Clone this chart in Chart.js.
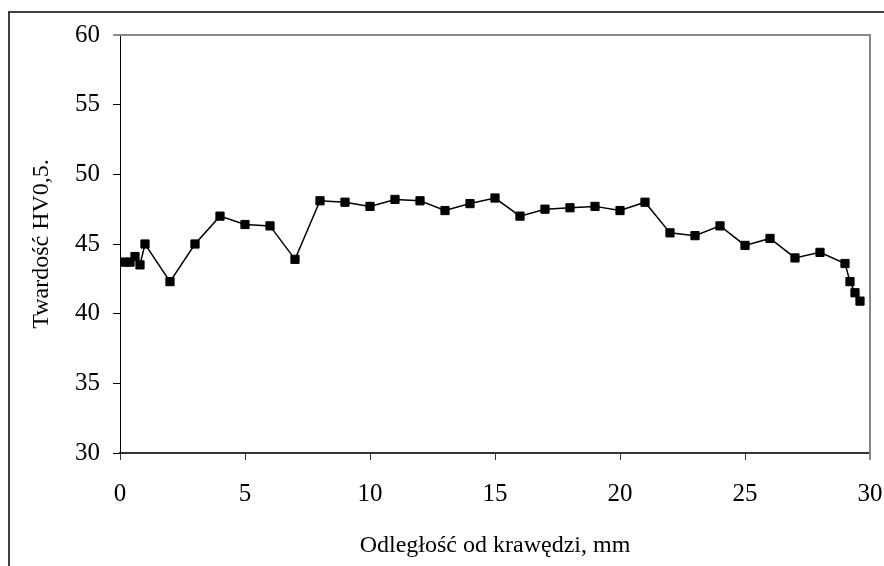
<!DOCTYPE html>
<html>
<head>
<meta charset="utf-8">
<script src="https://cdn.jsdelivr.net/npm/chart.js@4/dist/chart.umd.min.js"></script>
<style>
  html, body { margin: 0; padding: 0; background: #fff; overflow: hidden; }
  canvas { display: block; }
</style>
</head>
<body>
<canvas id="c" width="884" height="566"></canvas>
<script>
// Microhardness profile measured from the edge
const distanceMm = [0.2, 0.4, 0.6, 0.8, 1, 2, 3, 4, 5, 6, 7, 8, 9, 10, 11, 12, 13, 14, 15, 16, 17, 18, 19, 20, 21, 22, 23, 24, 25, 26, 27, 28, 29, 29.2, 29.4, 29.6];
const hardnessHV = [43.7, 43.7, 44.1, 43.5, 45.0, 42.3, 45.0, 47.0, 46.4, 46.3, 43.9, 48.1, 48.0, 47.7, 48.2, 48.1, 47.4, 47.9, 48.3, 47.0, 47.5, 47.6, 47.7, 47.4, 48.0, 45.8, 45.6, 46.3, 44.9, 45.4, 44.0, 44.4, 43.6, 42.3, 41.5, 40.9];
const xTicks = [0, 5, 10, 15, 20, 25, 30];
const yTicks = [30, 35, 40, 45, 50, 55, 60];

const xTitle = 'Odległość od krawędzi, mm';
const yTitle = 'Twardość HV0,5.';

const serif = "'Liberation Serif', 'Times New Roman', serif";

// Outer frame and the grey top/right border of the plot area
const framePlugin = {
  id: 'frame',
  beforeDraw(chart) {
    const ctx = chart.ctx;
    ctx.save();
    ctx.fillStyle = '#fff';
    ctx.fillRect(0, 0, chart.width, chart.height);
    ctx.strokeStyle = '#404040';
    ctx.lineWidth = 2;
    ctx.strokeRect(9, 12, 2000, 2000);
    ctx.restore();
  },
  afterDatasetsDraw(chart) {
    const {ctx, chartArea: a} = chart;
    ctx.save();
    ctx.strokeStyle = '#888';
    ctx.lineWidth = 2;
    ctx.beginPath();
    ctx.moveTo(a.left - 7, a.top);
    ctx.lineTo(a.right, a.top);
    ctx.lineTo(a.right, a.bottom + 7);
    ctx.stroke();
    ctx.restore();
  }
};

new Chart(document.getElementById('c'), {
  type: 'line',
  data: {
    datasets: [{
      data: distanceMm.map((x, i) => ({x, y: hardnessHV[i]})),
      borderColor: '#000',
      borderWidth: 1.5,
      pointStyle: 'rect',
      pointRadius: 5.8,
      pointBackgroundColor: '#000',
      pointBorderColor: '#000',
      pointBorderWidth: 1,
      tension: 0,
      fill: false
    }]
  },
  options: {
    responsive: false,
    animation: false,
    events: [],
    layout: { padding: { left: 0, top: 35, right: 14, bottom: 0 } },
    plugins: { legend: { display: false }, tooltip: { enabled: false } },
    scales: {
      x: {
        type: 'linear',
        min: 0, max: 30,
        afterBuildTicks: s => { s.ticks = xTicks.map(v => ({value: v})); },
        afterFit: s => { s.height = 113; s.paddingLeft = 0; s.paddingRight = 0; },
        grid: { drawOnChartArea: false, tickLength: 7, color: '#333', lineWidth: 1 },
        border: { color: '#333', width: 2 },
        ticks: { color: '#000', font: { family: serif, size: 25 }, padding: 19, maxRotation: 0 },
        title: { display: true, text: xTitle, color: '#000', font: { family: serif, size: 24 }, padding: { top: 0, bottom: 6 } }
      },
      y: {
        type: 'linear',
        min: 30, max: 60,
        afterBuildTicks: s => { s.ticks = yTicks.map(v => ({value: v})); },
        afterFit: s => { s.width = 120; s.paddingTop = 0; s.paddingBottom = 0; },
        grid: { drawOnChartArea: false, tickLength: 7, color: '#000', lineWidth: 1 },
        border: { color: '#000', width: 1 },
        ticks: { color: '#000', font: { family: serif, size: 25 }, padding: 13 },
        title: { display: true, text: yTitle, color: '#000', font: { family: serif, size: 24 }, padding: { top: 27, bottom: 0 } }
      }
    }
  },
  plugins: [framePlugin]
});
</script>
</body>
</html>
